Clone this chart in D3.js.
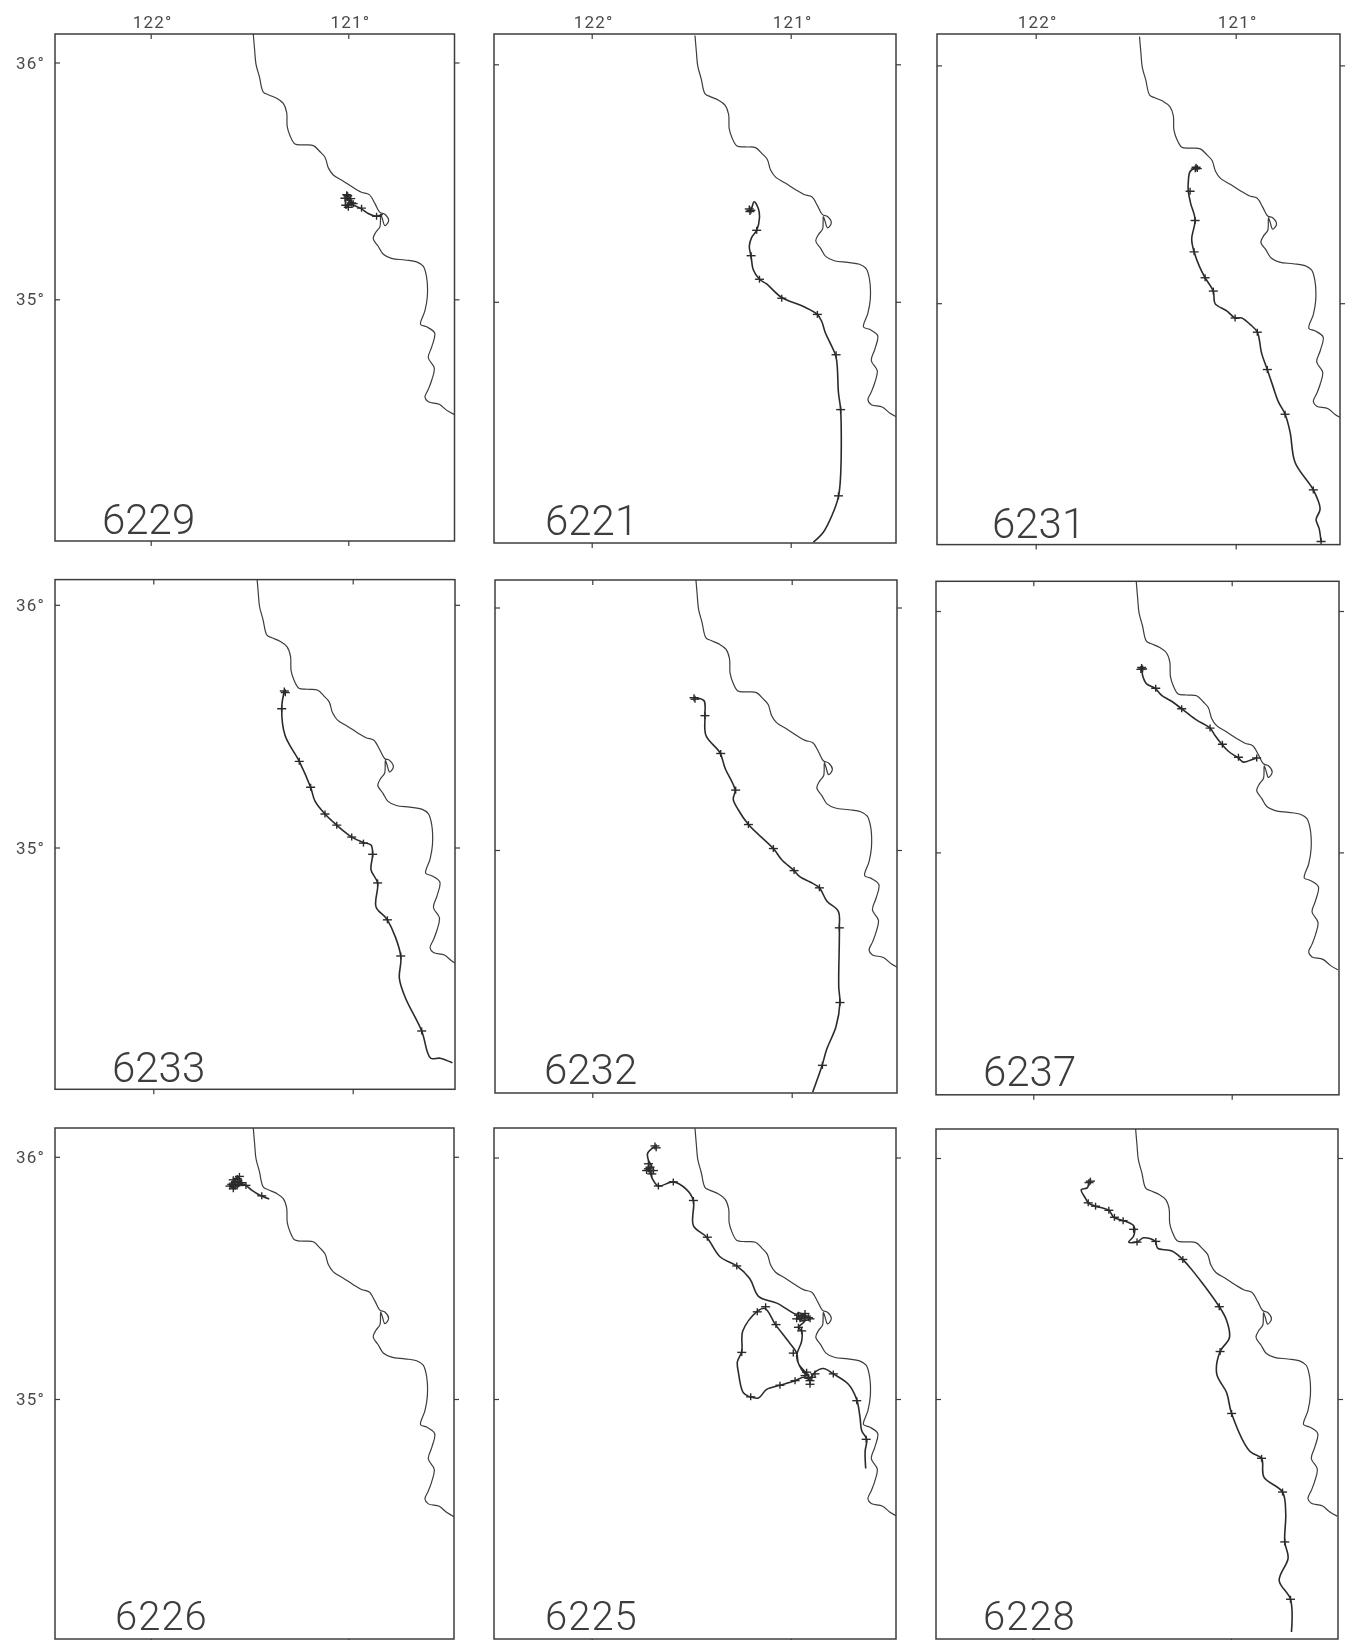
<!DOCTYPE html>
<html><head><meta charset="utf-8">
<script src="https://cdn.jsdelivr.net/npm/d3@7"></script>
<style>html,body{margin:0;padding:0;background:#fff}svg{display:block}</style>
</head><body><div id="chart"></div>
<script>
// Floats' identifiers, in reading order
const floats = ["6229","6221","6231","6233","6232","6237","6226","6225","6228"];
const lonTicks = [122,121];
const latTicks = [36,35];
const lonTickLabels = ["122°","121°"];
const latTickLabels = ["36°","35°"];

// Coast, [degrees W, degrees N]
const coast = [[121.481,36.121],[121.474,36.053],[121.467,35.992],[121.450,35.940],[121.430,35.875],[121.405,35.864],[121.363,35.849],[121.329,35.827],[121.312,35.789],[121.309,35.729],[121.295,35.691],[121.270,35.656],[121.228,35.652],[121.177,35.649],[121.143,35.623],[121.118,35.600],[121.101,35.555],[121.076,35.525],[121.025,35.499],[120.975,35.472],[120.933,35.452],[120.894,35.442],[120.865,35.404],[120.840,35.367],[120.815,35.359],[120.796,35.332],[120.815,35.311],[120.828,35.341],[120.836,35.359],[120.840,35.306],[120.860,35.284],[120.874,35.256],[120.848,35.223],[120.823,35.190],[120.781,35.173],[120.713,35.166],[120.654,35.158],[120.621,35.140],[120.604,35.095],[120.600,35.012],[120.612,34.952],[120.634,34.894],[120.604,34.884],[120.563,34.858],[120.577,34.801],[120.595,34.753],[120.565,34.710],[120.578,34.658],[120.595,34.620],[120.612,34.587],[120.595,34.567],[120.540,34.557],[120.503,34.532],[120.465,34.514]];

// Float tracks, [degrees W, degrees N]
const track6229 = [[120.826,35.359],[120.857,35.351],[120.899,35.362],[120.933,35.382],[120.975,35.398],[121.000,35.407],[121.008,35.386],[120.988,35.419],[121.017,35.442],[121.005,35.425],[120.975,35.404],[121.013,35.397],[121.003,35.437],[120.983,35.407],[121.017,35.427]];
const cross6229 = [[120.857,35.351],[120.933,35.385],[120.975,35.404],[121.000,35.389],[120.988,35.425],[121.008,35.442],[121.013,35.397],[121.003,35.437],[120.983,35.407],[121.017,35.427]];
const track6221 = [[120.886,33.988],[120.836,34.030],[120.794,34.098],[120.760,34.180],[120.749,34.271],[120.749,34.544],[120.760,34.617],[120.772,34.767],[120.802,34.827],[120.827,34.872],[120.844,34.917],[120.866,34.947],[120.936,34.980],[121.045,35.018],[121.121,35.075],[121.157,35.095],[121.188,35.135],[121.199,35.191],[121.208,35.233],[121.196,35.271],[121.171,35.301],[121.157,35.353],[121.162,35.391],[121.184,35.421],[121.198,35.391],[121.211,35.383]];
const cross6221 = [[120.760,34.183],[120.749,34.546],[120.772,34.777],[120.866,34.947],[121.045,35.015],[121.157,35.095],[121.199,35.194],[121.171,35.301],[121.208,35.391],[121.200,35.385],[121.205,35.380]];
const track6231 = [[120.573,33.995],[120.583,34.053],[120.598,34.090],[120.578,34.135],[120.612,34.215],[120.703,34.330],[120.728,34.458],[120.753,34.533],[120.787,34.586],[120.812,34.646],[120.842,34.721],[120.870,34.788],[120.892,34.878],[120.928,34.911],[120.970,34.938],[121.003,34.938],[121.045,34.968],[121.103,34.998],[121.112,35.051],[121.153,35.107],[121.182,35.156],[121.208,35.216],[121.220,35.269],[121.203,35.351],[121.225,35.419],[121.237,35.471],[121.237,35.509],[121.228,35.554],[121.195,35.572]];
const cross6231 = [[120.573,33.998],[120.612,34.215],[120.753,34.533],[120.842,34.721],[120.892,34.878],[121.003,34.938],[121.112,35.051],[121.153,35.107],[121.208,35.216],[121.203,35.348],[121.228,35.471],[121.198,35.572],[121.192,35.566],[121.202,35.565]];
const track6233 = [[120.500,34.113],[120.562,34.132],[120.609,34.132],[120.654,34.244],[120.737,34.383],[120.766,34.461],[120.759,34.553],[120.826,34.702],[120.883,34.755],[120.875,34.854],[120.908,34.908],[120.900,34.972],[120.908,35.010],[120.946,35.021],[121.005,35.043],[121.080,35.092],[121.139,35.138],[121.189,35.191],[121.211,35.248],[121.268,35.355],[121.339,35.461],[121.356,35.574],[121.343,35.645]];
const cross6233 = [[120.654,34.244],[120.759,34.553],[120.826,34.702],[120.875,34.854],[120.900,34.972],[120.946,35.018],[121.005,35.043],[121.080,35.092],[121.139,35.138],[121.211,35.248],[121.268,35.355],[121.356,35.572],[121.343,35.645],[121.338,35.638]];
const track6232 = [[120.895,34.001],[120.849,34.108],[120.824,34.179],[120.778,34.271],[120.758,34.371],[120.764,34.435],[120.761,34.679],[120.766,34.747],[120.824,34.790],[120.861,34.844],[120.908,34.868],[120.958,34.889],[120.992,34.918],[121.050,34.960],[121.092,35.006],[121.217,35.105],[121.268,35.166],[121.293,35.209],[121.284,35.247],[121.334,35.337],[121.360,35.401],[121.430,35.472],[121.435,35.557],[121.440,35.616],[121.493,35.628]];
const cross6232 = [[120.846,34.112],[120.758,34.371],[120.761,34.679],[120.861,34.844],[120.988,34.915],[121.092,35.006],[121.217,35.105],[121.281,35.247],[121.356,35.398],[121.435,35.554],[121.490,35.628],[121.485,35.622]];
const track6237 = [[120.874,35.391],[120.899,35.384],[120.941,35.374],[120.966,35.391],[121.017,35.419],[121.050,35.448],[121.084,35.484],[121.109,35.515],[121.176,35.548],[121.252,35.595],[121.303,35.626],[121.353,35.650],[121.387,35.680],[121.429,35.698],[121.449,35.733],[121.454,35.769]];
const cross6237 = [[120.874,35.391],[120.966,35.394],[121.047,35.448],[121.109,35.515],[121.252,35.595],[121.383,35.680],[121.454,35.766],[121.449,35.760],[121.458,35.758]];
const track6226 = [[121.400,35.826],[121.447,35.841],[121.489,35.862],[121.518,35.882],[121.548,35.893],[121.562,35.919],[121.573,35.900],[121.599,35.879],[121.573,35.872],[121.556,35.893],[121.540,35.900],[121.568,35.910],[121.590,35.886],[121.582,35.868],[121.562,35.879],[121.531,35.886],[121.582,35.905],[121.551,35.919]];
const cross6226 = [[121.438,35.839],[121.518,35.882],[121.599,35.879],[121.573,35.879],[121.562,35.910],[121.548,35.893],[121.573,35.893],[121.540,35.893],[121.560,35.885],[121.585,35.886],[121.582,35.868],[121.582,35.905],[121.551,35.919],[121.590,35.886]];
const track6225 = [[120.623,34.712],[120.626,34.783],[120.618,34.833],[120.643,34.869],[120.652,34.926],[120.668,34.997],[120.710,35.061],[120.786,35.104],[120.836,35.126],[120.878,35.111],[120.903,35.083],[120.936,35.090],[120.978,35.076],[121.054,35.057],[121.121,35.040],[121.162,35.004],[121.204,35.009],[121.238,35.026],[121.263,35.111],[121.268,35.154],[121.246,35.197],[121.241,35.282],[121.171,35.361],[121.129,35.375],[121.079,35.311],[121.020,35.247],[120.970,35.190],[120.961,35.147],[120.911,35.097],[120.936,35.111],[120.970,35.175],[120.945,35.240],[120.945,35.282],[120.961,35.297],[120.928,35.325],[120.953,35.347],[120.911,35.340],[120.970,35.332],[120.928,35.354],[120.953,35.325],[120.903,35.332],[120.961,35.357],[120.970,35.351],[121.070,35.397],[121.162,35.425],[121.204,35.496],[121.271,35.551],[121.355,35.589],[121.422,35.670],[121.489,35.718],[121.489,35.822],[121.523,35.867],[121.590,35.899],[121.665,35.882],[121.698,35.917],[121.710,35.946],[121.727,35.953],[121.698,35.960],[121.715,35.989],[121.719,36.017],[121.682,36.046]];
const cross6225 = [[120.621,34.833],[120.668,34.993],[120.786,35.104],[120.878,35.104],[120.911,35.090],[120.903,35.076],[120.928,35.097],[120.978,35.076],[121.054,35.057],[121.201,35.009],[121.246,35.193],[121.168,35.361],[121.126,35.382],[121.074,35.308],[120.987,35.190],[120.945,35.282],[120.961,35.297],[120.945,35.340],[120.928,35.342],[120.911,35.337],[120.961,35.347],[120.953,35.332],[120.894,35.090],[120.920,35.111],[120.903,35.061],[120.903,35.332],[120.928,35.354],[120.970,35.332],[121.271,35.551],[121.419,35.670],[121.489,35.822],[121.590,35.899],[121.665,35.882],[121.707,35.946],[121.707,35.960],[121.715,35.953],[121.724,35.946],[121.698,35.932],[121.715,35.974],[121.690,35.946],[121.682,36.048],[121.676,36.040]];
const track6228 = [[120.695,34.033],[120.700,34.169],[120.757,34.247],[120.712,34.340],[120.729,34.407],[120.724,34.526],[120.740,34.614],[120.834,34.676],[120.846,34.754],[120.905,34.783],[120.997,34.940],[121.022,35.026],[121.072,35.104],[121.055,35.197],[121.008,35.254],[121.022,35.326],[121.059,35.383],[121.240,35.576],[121.298,35.614],[121.370,35.626],[121.382,35.654],[121.441,35.669],[121.474,35.651],[121.516,35.651],[121.491,35.676],[121.491,35.719],[121.541,35.740],[121.591,35.754],[121.616,35.783],[121.683,35.800],[121.720,35.814],[121.734,35.833],[121.755,35.869],[121.725,35.876],[121.717,35.904]];
const cross6228 = [[120.700,34.169],[120.729,34.407],[120.740,34.614],[120.846,34.754],[120.997,34.940],[121.055,35.197],[121.059,35.383],[121.243,35.579],[121.379,35.654],[121.474,35.651],[121.491,35.704],[121.544,35.740],[121.588,35.754],[121.616,35.783],[121.683,35.800],[121.720,35.814],[121.709,35.904],[121.716,35.898]];

const tracks = [track6229,track6221,track6231,track6233,track6232,track6237,track6226,track6225,track6228];
const crosses = [cross6229,cross6221,cross6231,cross6233,cross6232,cross6237,cross6226,cross6225,cross6228];

// Page layout of each panel, in pixels
const frameLeft   = [55,494,937,55,495,936,55,494,936];
const frameRight  = [454.5,896,1340,455,897,1339,454,896,1338];
const frameTop    = [34,34,34,579.6,580,581.3,1128,1128,1129];
const frameBottom = [541,543,544.6,1089.3,1093,1094.8,1639,1639,1639];
const pos122 = [150.7,591.7,1035.7,153.3,592.3,1033.3,150.7,591.7,1032.7];
const pos121 = [348.3,790.7,1235.7,352.7,791.7,1231.7,348.3,790.7,1231];
const pos36  = [62.5,64.3,65.4,604.8,607.5,611,1156.8,1157.5,1158];
const pos35  = [299.3,301.8,303.2,847.5,850,852.4,1399,1399,1399];
const labelLeft = [102,545,992,112,544,983,115,545,983];
const labelBase = [534,534.6,537.5,1081.7,1084.4,1085.8,1630,1630,1630];
const labelSize = [42,42,42,42,42,42,40,40,40];
const labelGap  = [0,0,0,0,0,0,1,1,1];

const ink = "#3c3c3c";
const W = 1353, H = 1640;
const svg = d3.select("#chart").append("svg").attr("width",W).attr("height",H).attr("viewBox",[0,0,W,H]);
svg.append("rect").attr("width",W).attr("height",H).attr("fill","#fff");
const defs = svg.append("defs");
defs.append("filter").attr("id","scan").attr("x","-5%").attr("y","-5%").attr("width","110%").attr("height","110%")
  .append("feGaussianBlur").attr("stdDeviation",0.45);
const root = svg.append("g").attr("filter","url(#scan)");
const font = "Roboto, 'Liberation Sans', sans-serif";

floats.forEach((id,i)=>{
  const col = i%3, row = Math.floor(i/3);
  const x = d3.scaleLinear().domain(lonTicks).range([pos122[i],pos121[i]]);
  const y = d3.scaleLinear().domain(latTicks).range([pos36[i],pos35[i]]);
  const g = root.append("g");
  defs.append("clipPath").attr("id","clip"+id).append("rect")
    .attr("x",frameLeft[i]).attr("y",frameTop[i])
    .attr("width",frameRight[i]-frameLeft[i]).attr("height",frameBottom[i]-frameTop[i]);

  const line = d3.line().x(d=>x(d[0])).y(d=>y(d[1])).curve(d3.curveCatmullRom.alpha(0.5));
  const plot = g.append("g").attr("clip-path",`url(#clip${id})`);
  plot.append("path").attr("d",line(coast)).attr("fill","none").attr("stroke",ink).attr("stroke-width",1.2).attr("stroke-linejoin","round");
  plot.append("path").attr("d",line(tracks[i])).attr("fill","none").attr("stroke","#2c2c2c").attr("stroke-width",1.6).attr("stroke-linejoin","round");
  const cg = plot.selectAll("g.c").data(crosses[i]).join("g").attr("class","c")
    .attr("transform",d=>`translate(${x(d[0])},${y(d[1])})`);
  cg.append("path").attr("d",d3.line()([[-4.5,0],[4.5,0]])).attr("stroke","#2c2c2c").attr("stroke-width",1.4);
  cg.append("path").attr("d",d3.line()([[0,-3.5],[0,3.5]])).attr("stroke","#2c2c2c").attr("stroke-width",1.4);

  g.append("rect").attr("x",frameLeft[i]).attr("y",frameTop[i])
    .attr("width",frameRight[i]-frameLeft[i]).attr("height",frameBottom[i]-frameTop[i])
    .attr("fill","none").attr("stroke",ink).attr("stroke-width",1.5);

  const styleAxis = a => { a.select(".domain").remove(); a.selectAll("text").remove(); a.selectAll("line").attr("stroke",ink).attr("stroke-width",1.2); };
  g.append("g").attr("transform",`translate(${frameLeft[i]},0)`).call(d3.axisRight(y).tickValues(latTicks).tickSize(5)).call(styleAxis);
  g.append("g").attr("transform",`translate(${frameRight[i]},0)`).call(d3.axisRight(y).tickValues(latTicks).tickSize(5)).call(styleAxis);
  if(row<2) g.append("g").attr("transform",`translate(0,${frameTop[i]})`).call(d3.axisBottom(x).tickValues(lonTicks).tickSize(5)).call(styleAxis);
  g.append("g").attr("transform",`translate(0,${frameBottom[i]})`).call(d3.axisBottom(x).tickValues(lonTicks).tickSize(5)).call(styleAxis);

  if(row===0) g.selectAll("text.lon").data(lonTicks).join("text").attr("class","lon")
    .attr("x",d=>x(d)+2).attr("y",28).attr("text-anchor","middle")
    .attr("font-family",font).attr("font-weight",400).attr("font-size",17).attr("letter-spacing",1.2).attr("fill","#4a4a4a")
    .text((d,k)=>lonTickLabels[k]);
  if(col===0) g.selectAll("text.lat").data(latTicks).join("text").attr("class","lat")
    .attr("x",45).attr("y",d=>y(d)+6).attr("text-anchor","end")
    .attr("font-family",font).attr("font-weight",400).attr("font-size",17).attr("letter-spacing",1.2).attr("fill","#4a4a4a")
    .text((d,k)=>latTickLabels[k]);

  g.append("text").attr("x",labelLeft[i]).attr("y",labelBase[i])
    .attr("font-family",font).attr("font-weight",300).attr("font-size",labelSize[i]).attr("letter-spacing",labelGap[i]).attr("fill",ink)
    .text(id);
});
</script></body></html>
